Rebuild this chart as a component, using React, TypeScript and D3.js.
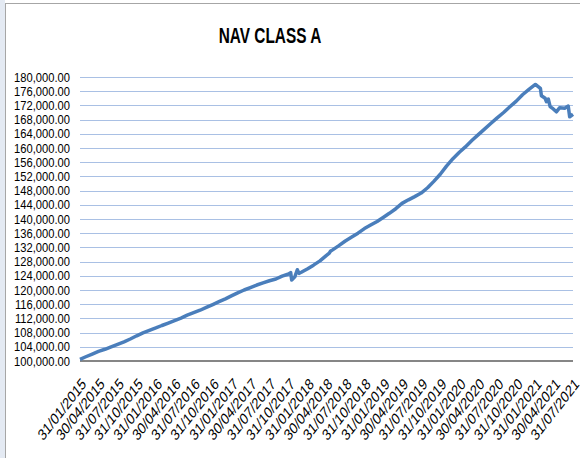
import React, { useEffect, useRef } from 'react';
import * as d3 from 'd3';

const navDates = [
  '2015-01-31', '2015-02-28', '2015-03-31', '2015-04-30', '2015-05-31', '2015-06-30',
  '2015-07-31', '2015-08-31', '2015-09-30', '2015-10-31', '2015-11-30', '2015-12-31',
  '2016-01-31', '2016-02-29', '2016-03-31', '2016-04-30', '2016-05-31', '2016-06-30',
  '2016-07-31', '2016-08-31', '2016-09-30', '2016-10-31', '2016-11-30', '2016-12-31',
  '2017-01-31', '2017-02-28', '2017-03-31', '2017-04-30', '2017-05-31', '2017-06-30',
  '2017-07-31', '2017-08-31', '2017-09-30', '2017-10-31', '2017-11-10', '2017-11-15',
  '2017-11-30', '2017-12-12', '2017-12-20', '2017-12-31', '2018-01-31', '2018-02-28',
  '2018-03-31', '2018-04-30', '2018-05-15', '2018-05-20', '2018-05-31', '2018-06-30',
  '2018-07-31', '2018-08-31', '2018-09-30', '2018-10-31', '2018-11-30', '2018-12-31',
  '2019-01-31', '2019-02-28', '2019-03-31', '2019-04-30', '2019-05-31', '2019-06-30',
  '2019-07-31', '2019-08-31', '2019-09-30', '2019-10-31', '2019-11-30', '2019-12-31',
  '2020-01-31', '2020-02-29', '2020-03-31', '2020-04-30', '2020-05-31', '2020-06-30',
  '2020-07-31', '2020-08-31', '2020-09-30', '2020-10-31', '2020-11-30', '2020-12-31',
  '2021-01-20', '2021-01-31', '2021-02-24', '2021-03-01', '2021-03-19', '2021-03-25',
  '2021-04-03', '2021-04-12', '2021-04-27', '2021-05-12', '2021-05-28', '2021-06-21',
  '2021-07-08', '2021-07-15', '2021-07-31',
];

const navValues = [
  100480, 101200, 101950, 102700, 103300, 104000,
  104700, 105400, 106200, 107100, 107900, 108600,
  109300, 110000, 110700, 111400, 112100, 112900,
  113600, 114300, 115100, 115900, 116700, 117500,
  118400, 119200, 120000, 120700, 121400, 122000,
  122600, 123100, 123900, 124500, 124900, 122800,
  123700, 125700, 124700, 125000, 126000, 127000,
  128200, 129700, 130400, 130900, 131300, 132500,
  133800, 134900, 136000, 137300, 138300, 139300,
  140500, 141600, 142900, 144400, 145400, 146300,
  147300, 148800, 150600, 152600, 154900, 157000,
  158800, 160300, 162100, 163700, 165300, 166900,
  168500, 170000, 171600, 173200, 175000, 176500,
  177400, 177900, 176800, 174700, 174000, 173050,
  173800, 171650, 171000, 170200, 171350, 171200,
  171800, 168800, 169500,
];

const tickLabels = [
  '31/01/2015', '30/04/2015', '31/07/2015', '31/10/2015', '31/01/2016', '30/04/2016',
  '31/07/2016', '31/10/2016', '31/01/2017', '30/04/2017', '31/07/2017', '31/10/2017',
  '31/01/2018', '30/04/2018', '31/07/2018', '31/10/2018', '31/01/2019', '30/04/2019',
  '31/07/2019', '31/10/2019', '31/01/2020', '30/04/2020', '31/07/2020', '31/10/2020',
  '31/01/2021', '30/04/2021', '31/07/2021',
];

const yTicks = d3.range(100000, 180001, 4000);

const App: React.FC = () => {
  const svgRef = useRef<SVGSVGElement>(null);

  useEffect(() => {
    if (!svgRef.current) return;
    const W = 585, H = 458;
    const left = 80, right = 573, top = 77, bottom = 361;

    const svg = d3.select(svgRef.current);
    svg.selectAll('*').remove();
    svg.attr('width', W).attr('height', H);

    // chart frame
    svg.append('rect').attr('width', W).attr('height', H).attr('fill', '#fff');
    svg.append('rect').attr('x', 0).attr('y', 0).attr('width', 5).attr('height', H).attr('fill', '#e4eaf3');
    svg.append('line').attr('x1', 5.5).attr('x2', 5.5).attr('y1', 3).attr('y2', H).attr('stroke', '#a6a6a6');
    svg.append('line').attr('x1', 5).attr('x2', 580).attr('y1', 3.5).attr('y2', 3.5).attr('stroke', '#a6a6a6');

    const parseD = d3.timeParse('%Y-%m-%d');
    const parseL = d3.timeParse('%d/%m/%Y');
    const data = navDates.map((d, i) => ({ date: parseD(d) as Date, value: navValues[i] }));

    const x = d3.scaleTime()
      .domain([parseL(tickLabels[0]) as Date, parseL(tickLabels[tickLabels.length - 1]) as Date])
      .range([left, right]);
    const y = d3.scaleLinear().domain([100000, 180000]).range([bottom, top]);

    const font = '"Liberation Sans", Arial, sans-serif';

    // title (squeezed like the source)
    svg.append('text')
      .attr('transform', 'translate(270,43) scale(0.7,1)')
      .attr('text-anchor', 'middle')
      .style('font-family', font)
      .style('font-weight', 'bold')
      .style('font-size', '22px')
      .attr('fill', '#000')
      .text('NAV CLASS A');

    // gridlines
    svg.append('g').selectAll('line')
      .data(yTicks.filter(t => t > 100000))
      .enter().append('line')
      .attr('x1', left).attr('x2', right)
      .attr('y1', d => Math.round(y(d)) + 0.5).attr('y2', d => Math.round(y(d)) + 0.5)
      .attr('stroke', '#a9c0e4').attr('stroke-width', 1);

    // y labels
    const fmt = d3.format(',.2f');
    svg.append('g').selectAll('text')
      .data(yTicks)
      .enter().append('text')
      .attr('transform', d => `translate(70,${y(d) + 4.5}) scale(0.86,1)`)
      .attr('text-anchor', 'end')
      .style('font-family', font)
      .style('font-size', '13px')
      .attr('fill', '#000')
      .text(d => fmt(d));

    // x axis line
    svg.append('line')
      .attr('x1', left).attr('x2', right)
      .attr('y1', bottom).attr('y2', bottom)
      .attr('stroke', '#868686').attr('stroke-width', 2);

    // x labels
    svg.append('g').selectAll('text')
      .data(tickLabels)
      .enter().append('text')
      .attr('transform', d => `translate(${x(parseL(d) as Date) + 7},${bottom + 24}) scale(0.78,1) rotate(-45)`)
      .attr('text-anchor', 'end')
      .style('font-family', font)
      .style('font-size', '16px')
      .attr('fill', '#000')
      .text(d => d);

    // NAV line
    const line = d3.line<{ date: Date; value: number }>()
      .x(d => x(d.date))
      .y(d => y(d.value));

    svg.append('path')
      .datum(data)
      .attr('d', line)
      .attr('fill', 'none')
      .attr('stroke', '#4a7ebb')
      .attr('stroke-width', 3.5)
      .attr('stroke-linejoin', 'round');
  }, []);

  return (
    <div style={{ position: 'absolute', left: 0, top: 0 }}>
      <svg ref={svgRef} style={{ display: 'block' }}></svg>
    </div>
  );
};

export default App;
